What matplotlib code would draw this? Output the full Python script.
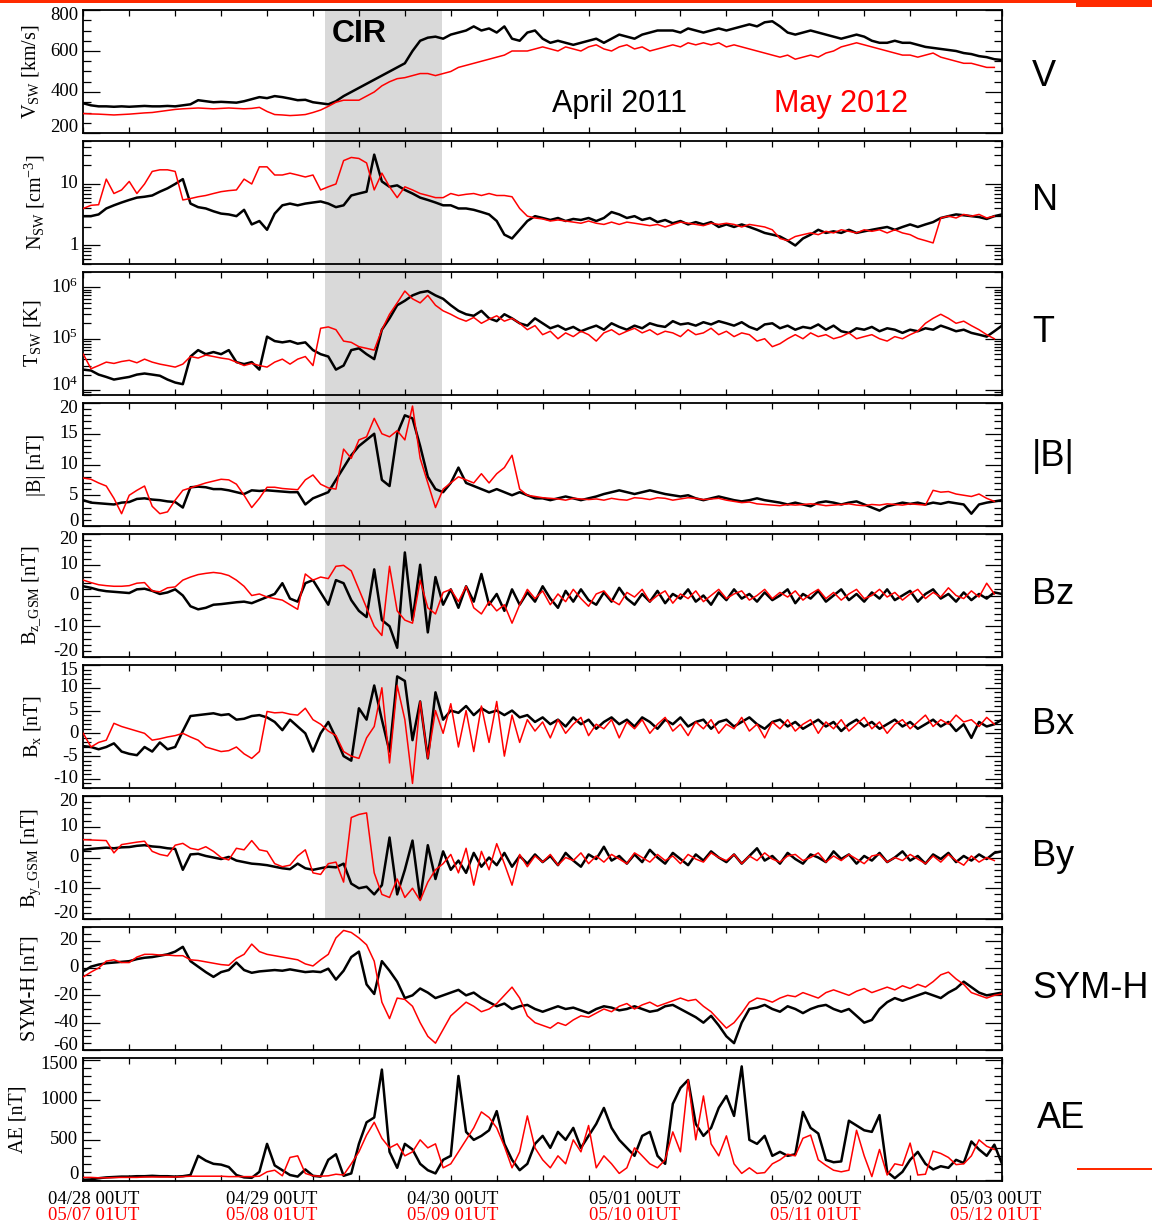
import numpy as np
import matplotlib
matplotlib.use("Agg")
import matplotlib.pyplot as plt
import matplotlib.transforms as mtransforms
from matplotlib.patches import Rectangle
from matplotlib.ticker import MultipleLocator, FixedLocator, LogLocator, NullFormatter

plt.rcParams['font.family'] = ['Liberation Serif', 'DejaVu Serif']
plt.rcParams['mathtext.fontset'] = 'custom'
plt.rcParams['mathtext.rm'] = 'Liberation Serif'
plt.rcParams['mathtext.default'] = 'regular'
plt.rcParams['axes.unicode_minus'] = False

# ---------------- data (hourly, hours since 04/28 00UT [black] / 05/07 01UT [red]) -------------
HOURS = np.arange(121)

V_2011 = [345, 335, 330, 330, 328, 330, 328, 330, 332, 330,
          330, 332, 330, 335, 340, 360, 355, 350, 352, 350,
          348, 355, 365, 375, 370, 380, 375, 368, 360, 362,
          350, 345, 340, 355, 380, 400, 420, 440, 460, 480,
          500, 520, 540, 600, 650, 665, 670, 660, 680, 690,
          700, 720, 700, 710, 690, 720, 660, 650, 690, 700,
          660, 640, 650, 640, 630, 640, 650, 660, 640, 660,
          680, 670, 660, 680, 690, 700, 700, 700, 690, 710,
          700, 690, 700, 710, 700, 710, 720, 730, 720, 740,
          745, 720, 690, 680, 690, 700, 690, 680, 670, 660,
          670, 680, 670, 650, 640, 640, 650, 640, 640, 630,
          620, 615, 610, 605, 600, 590, 585, 575, 570, 560,
          556]
V_2012 = [295, 293, 292, 290, 288, 290, 292, 295, 298, 300,
          305, 310, 315, 318, 320, 322, 320, 318, 320, 322,
          320, 318, 320, 325, 305, 290, 288, 285, 287, 290,
          300, 312, 330, 350, 360, 360, 360, 380, 400, 430,
          450, 465, 470, 480, 490, 490, 480, 490, 500, 520,
          530, 540, 550, 560, 570, 580, 600, 600, 600, 610,
          620, 610, 600, 620, 610, 600, 620, 630, 610, 600,
          620, 630, 610, 620, 600, 610, 620, 630, 620, 640,
          630, 640, 630, 640, 620, 630, 620, 610, 600, 590,
          580, 570, 580, 560, 570, 580, 570, 590, 600, 620,
          630, 640, 630, 620, 610, 600, 590, 580, 580, 570,
          580, 590, 570, 560, 550, 540, 540, 530, 520, 520,
          np.nan]

N_2011 = [3.0, 3.0, 3.2, 4.0, 4.5, 5.0, 5.5, 6.0, 6.2, 6.5,
          7.5, 8.5, 10, 12, 4.8, 4.2, 4.0, 3.6, 3.3, 3.2,
          3.0, 3.8, 2.2, 2.5, 1.8, 3.3, 4.5, 4.8, 4.5, 4.8,
          5.0, 5.2, 4.8, 4.2, 4.5, 6.5, 7.0, 7.5, 30, 11,
          9.0, 9.5, 8.0, 7.0, 6.0, 5.5, 5.0, 4.5, 4.5, 4.0,
          4.0, 3.8, 3.5, 3.2, 2.5, 1.5, 1.3, 1.8, 2.5, 3.0,
          2.8, 2.6, 2.8, 2.5, 2.7, 2.6, 2.8, 2.5, 2.8, 3.5,
          3.2, 2.8, 3.0, 2.6, 2.8, 2.4, 2.6, 2.3, 2.5, 2.2,
          2.4, 2.2, 2.4, 2.0, 2.2, 2.0, 2.2, 2.0, 1.8, 1.6,
          1.5, 1.4, 1.2, 1.0, 1.3, 1.5, 1.8, 1.6, 1.7, 1.6,
          1.8, 1.6, 1.7, 1.8, 1.9, 2.0, 1.8, 2.0, 2.2, 2.0,
          2.2, 2.4, 2.8, 3.0, 3.2, 3.1, 3.0, 2.9, 2.7, 3.0,
          3.2]
N_2012 = [4.0, 4.5, 4.6, 12, 7.0, 8.0, 11, 7.0, 10, 16,
          17, 17, 16, 5.5, 5.8, 6.2, 6.5, 7.0, 7.5, 7.8,
          8.0, 12, 10, 19, 19, 14, 14, 15, 14, 13,
          14, 8.0, 9.0, 10, 24, 27, 26, 22, 8.0, 15,
          9.0, 6.0, 9.0, 8.0, 7.0, 6.5, 6.0, 6.0, 7.0, 6.5,
          6.8, 7.0, 6.5, 7.0, 6.5, 6.5, 6.2, 4.0, 3.0, 2.8,
          2.7, 2.5, 2.6, 2.5, 2.4, 2.3, 2.5, 2.3, 2.2, 2.4,
          2.2, 2.4, 2.3, 2.2, 2.1, 2.2, 2.0, 2.2, 2.4, 2.3,
          2.2, 2.1, 2.3, 2.2, 2.3, 2.2, 2.0, 2.2, 2.1, 2.0,
          1.8, 1.3, 1.2, 1.4, 1.5, 1.6, 1.5, 1.7, 1.6, 1.8,
          1.7, 1.6, 1.8, 1.7, 1.8, 1.6, 1.8, 1.6, 1.5, 1.3,
          1.2, 1.1, 2.8, 3.0, 2.8, 3.2, 3.0, 3.2, 2.8, 3.0,
          np.nan]

T_2011 = [2.5e4, 2.4e4, 2.0e4, 1.8e4, 1.6e4, 1.7e4, 1.8e4, 2.0e4, 2.1e4, 2.0e4,
          1.9e4, 1.6e4, 1.4e4, 1.3e4, 4.5e4, 6.0e4, 5.0e4, 5.5e4, 5.0e4, 6.0e4,
          3.5e4, 3.2e4, 3.5e4, 2.5e4, 1.1e5, 9.0e4, 8.5e4, 9.0e4, 8.0e4, 8.5e4,
          6.0e4, 5.0e4, 4.5e4, 2.5e4, 3.0e4, 6.0e4, 6.5e4, 5.0e4, 4.0e4, 1.5e5,
          2.5e5, 4.5e5, 5.5e5, 7.0e5, 8.0e5, 8.5e5, 7.0e5, 6.0e5, 4.5e5, 3.5e5,
          3.0e5, 2.8e5, 3.5e5, 2.5e5, 2.2e5, 3.0e5, 2.5e5, 2.0e5, 1.8e5, 2.5e5,
          2.0e5, 1.6e5, 1.8e5, 1.5e5, 1.7e5, 1.4e5, 1.6e5, 1.8e5, 1.5e5, 2.0e5,
          1.7e5, 1.5e5, 1.8e5, 1.6e5, 2.0e5, 1.8e5, 1.7e5, 2.2e5, 1.9e5, 2.0e5,
          1.8e5, 2.1e5, 1.9e5, 2.2e5, 2.0e5, 1.8e5, 2.1e5, 1.7e5, 1.5e5, 1.9e5,
          2.0e5, 1.6e5, 1.8e5, 1.5e5, 1.7e5, 1.6e5, 1.9e5, 1.5e5, 1.8e5, 1.4e5,
          1.3e5, 1.6e5, 1.5e5, 1.7e5, 1.4e5, 1.6e5, 1.5e5, 1.3e5, 1.5e5, 1.4e5,
          1.6e5, 1.5e5, 1.8e5, 1.6e5, 1.4e5, 1.5e5, 1.3e5, 1.2e5, 1.1e5, 1.4e5,
          1.8e5]
T_2012 = [5.0e4, 2.6e4, 3.0e4, 3.5e4, 3.3e4, 3.6e4, 3.8e4, 3.4e4, 4.0e4, 3.5e4,
          3.2e4, 3.0e4, 2.8e4, 3.2e4, 4.5e4, 4.2e4, 4.8e4, 4.5e4, 4.2e4, 4.0e4,
          3.5e4, 3.0e4, 3.3e4, 3.0e4, 2.8e4, 3.5e4, 4.0e4, 3.2e4, 4.0e4, 4.5e4,
          3.0e4, 1.6e5, 1.7e5, 1.5e5, 9.0e4, 8.5e4, 7.0e4, 6.5e4, 6.0e4, 1.5e5,
          3.0e5, 5.0e5, 8.5e5, 6.0e5, 5.0e5, 7.0e5, 4.5e5, 3.5e5, 3.0e5, 2.5e5,
          2.2e5, 2.6e5, 2.0e5, 2.4e5, 2.8e5, 2.2e5, 2.5e5, 2.0e5, 1.5e5, 1.8e5,
          1.2e5, 1.4e5, 1.0e5, 1.3e5, 1.1e5, 1.4e5, 1.2e5, 9.0e4, 1.3e5, 1.5e5,
          1.2e5, 1.4e5, 1.6e5, 1.3e5, 1.5e5, 1.2e5, 1.4e5, 1.3e5, 1.1e5, 1.5e5,
          1.2e5, 1.3e5, 1.6e5, 1.2e5, 1.4e5, 1.1e5, 1.3e5, 1.2e5, 9.0e4, 1.0e5,
          7.0e4, 8.0e4, 1.0e5, 1.2e5, 1.0e5, 1.3e5, 1.1e5, 1.2e5, 1.0e5, 1.1e5,
          1.3e5, 1.0e5, 1.1e5, 1.2e5, 1.0e5, 9.0e4, 1.1e5, 1.0e5, 1.2e5, 1.4e5,
          2.0e5, 2.5e5, 3.0e5, 2.5e5, 2.0e5, 2.2e5, 1.8e5, 1.5e5, 1.2e5, 1.0e5,
          np.nan]

B_2011 = [4.2, 3.8, 3.7, 3.6, 3.5, 3.8, 3.9, 4.4, 4.5, 4.3,
          4.2, 4.0, 3.9, 3.0, 6.3, 6.4, 6.3, 6.0, 6.0, 5.8,
          5.5, 5.2, 5.8, 5.7, 5.8, 5.7, 5.6, 5.5, 5.5, 3.5,
          4.5, 5.0, 5.5, 7.5, 9.5, 11.5, 13, 14, 15, 7.5,
          6.5, 15, 18, 17.5, 13, 8.0, 6.0, 5.5, 7.0, 9.5,
          7.0, 6.5, 6.0, 5.5, 6.0, 5.5, 5.0, 5.5, 5.0, 4.5,
          4.5, 4.2, 4.5, 4.8, 4.5, 4.2, 4.5, 4.8, 5.2, 5.5,
          5.8, 5.5, 5.2, 5.5, 5.8, 5.5, 5.2, 5.0, 4.8, 5.0,
          4.5, 4.2, 4.5, 4.8, 4.5, 4.2, 4.0, 4.2, 4.5, 4.2,
          4.0, 3.8, 3.5, 3.8, 3.5, 3.2, 3.8, 4.0, 3.8, 3.5,
          3.8, 4.0, 3.5, 3.0, 2.5, 3.2, 3.5, 3.8, 3.6, 3.8,
          3.5, 3.8, 3.6, 3.9, 3.7, 3.5, 2.0, 3.5, 3.8, 4.0,
          4.2]
B_2012 = [7.8, 7.6, 7.0, 6.5, 4.5, 2.0, 5.0, 5.8, 6.5, 3.2,
          2.0, 2.3, 4.2, 5.8, 6.2, 6.6, 7.0, 7.3, 7.6, 7.5,
          6.8, 5.0, 3.0, 4.5, 6.3, 6.3, 6.1, 6.0, 5.9, 7.5,
          8.3, 6.8, 6.2, 6.0, 12.5, 11, 14, 14.5, 17.5, 15,
          14.5, 15.5, 14, 19.5, 11, 7.0, 3.0, 6.0, 7.0, 8.0,
          7.5, 7.0, 8.5, 7.0, 8.5, 9.5, 11.5, 6.0, 5.0, 4.8,
          4.6, 4.5, 4.4, 4.2, 4.5, 4.4, 4.3, 4.4, 4.2, 4.5,
          4.3, 4.2, 4.6, 4.5, 4.3, 4.6, 4.5, 4.2, 4.4, 4.6,
          4.5, 4.3, 4.4, 4.5, 4.2, 4.0, 3.8, 3.9, 3.6, 3.5,
          3.4, 3.3, 3.5, 3.4, 3.5, 3.6, 3.5, 3.3, 3.4, 3.5,
          3.6, 3.4, 3.3, 3.5, 3.4, 3.6, 3.5, 3.4, 3.6, 3.5,
          3.4, 5.8, 5.5, 5.6, 5.2, 5.0, 4.8, 5.2, 4.5, 4.0,
          np.nan]

BZ_2011 = [3.0, 2.5, 1.8, 1.4, 1.2, 1.0, 0.8, 2.0, 2.2, 1.5,
           0.5, 1.0, 2.0, 0.0, -3.5, -4.5, -4.0, -3.0, -2.8, -2.5,
           -2.2, -2.0, -2.5, -1.5, -0.5, 0.5, 4.0, -1.0, -2.0, 4.0,
           5.0, 1.0, -3.0, 5.0, 4.0, -1.5, -5.0, -7.0, 8.5, -8.0,
           -10, -17, 14, -8.0, 10, -12, 6.0, -3.0, 2.0, -4.0,
           3.0, -2.0, 7.0, -3.0, 0.5, -5.0, 2.0, -3.0, 1.0, -2.0,
           3.0, -1.0, -4.0, 1.5, -2.0, 2.0, -1.5, -3.0, 1.0, -2.0,
           2.5, -1.0, -3.0, 0.5, -2.0, 1.5, -2.5, 0.5, -1.0, 2.0,
           -2.0, 0.0, -3.0, 1.0, -1.5, 2.0, -1.0, 0.5, -2.0, 1.0,
           -1.5, 0.0, 2.0, -2.5, 0.5, -1.0, 1.5, -2.0, 0.0, 2.0,
           -1.5, 0.5, -2.0, 1.0, -1.0, 2.0, -1.5, 0.0, 1.5, -2.0,
           0.5, 2.0, -1.0, 0.5, -2.0, 1.0, -1.5, 0.5, -1.0, 1.0,
           0.5]
BZ_2012 = [5.0, 4.2, 3.5, 3.2, 3.0, 3.0, 3.2, 4.0, 4.2, 1.5,
           1.2, 2.5, 2.8, 5.0, 6.0, 6.8, 7.2, 7.5, 7.2, 6.5,
           5.0, 3.0, 0.0, 0.5, -0.5, -1.0, -1.5, -3.0, -4.5, 7.0,
           5.0, 6.0, 5.5, 9.5, 9.8, 8.0, 2.0, -4.0, -10, -13,
           9.5, -5.0, -8.0, -9.0, 5.0, -4.0, -6.0, 1.0, 2.0, -2.0,
           3.0, -4.0, -6.0, -2.0, -5.0, -3.0, -9.0, -3.0, 2.0, -1.0,
           1.5, -3.0, 0.5, -2.0, 2.0, -1.0, -3.5, 0.5, 1.5, -1.5,
           -3.0, 1.0, -0.5, 2.0, -2.0, 0.0, 1.5, -2.5, 0.5, -1.0,
           1.5, -2.0, 0.0, 2.0, -1.0, 0.5, 1.5, -1.5, 0.0, 2.0,
           -1.0, 1.0, -0.5, 1.5, -1.5, 0.5, 2.0, -1.0, 1.0, -1.5,
           0.5, 2.0, -1.0, 0.0, 2.0, -0.5, 1.0, -1.5, 0.5, 2.0,
           -1.0, 1.0, -0.5, 2.5, 0.0, -1.0, 1.5, -0.5, 4.0, 0.5,
           np.nan]

BX_2011 = [-2.8, -3.0, -3.5, -3.0, -2.2, -4.0, -4.5, -4.8, -3.0, -4.0,
           -2.0, -3.5, -3.0, 0.5, 3.8, 4.0, 4.2, 4.4, 4.0, 4.2,
           3.0, 3.2, 3.8, 4.0, 3.5, 2.5, 0.7, 3.0, 1.5, 0.0,
           -4.0, 0.0, 2.5, -1.0, -5.0, -6.0, 5.5, 3.0, 10.5, 3.0,
           -4.0, 12.5, 11.5, -1.5, 7.0, -5.5, 9.0, 3.0, 5.0, 4.5,
           6.0, 4.0, 5.5, 4.5, 5.0, 4.0, 5.0, 3.5, 4.0, 2.5,
           3.5, 2.0, 3.0, 1.5, 3.5, 2.0, 3.0, 1.0, 2.5, 3.5,
           2.0, 3.0, 1.5, 3.5, 2.5, 1.0, 3.0, 2.0, 3.5, 1.5,
           2.5, 3.0, 1.0, 2.5, 3.0, 1.5, 2.5, 3.5, 2.0, 1.0,
           2.5, 3.0, 1.5, 2.5, 1.0, 2.0, 3.0, 1.5, 2.5, 0.5,
           2.0, 3.0, 1.5, 2.5, 1.0, 2.0, 3.0, 1.5, 2.5, 1.0,
           2.0, 3.0, 1.5, 2.5, 0.5, 2.0, -1.0, 2.5, 1.5, 2.0,
           3.0]
BX_2012 = [0.0, -3.0, -2.0, -1.5, 2.2, 1.5, 1.0, 0.5, 0.0, -1.5,
           -1.2, -0.8, -0.5, 0.0, -0.8, -1.5, -3.0, -3.5, -4.0, -3.8,
           -3.0, -4.5, -5.5, -4.0, 4.8, 4.5, 4.6, 4.2, 4.0, 5.5,
           3.0, 2.0, 0.5, -0.5, -4.0, -5.0, -5.5, -1.0, 1.5, 10.0,
           -6.5, 10.5, 3.0, -11, 7.0, -5.5, 5.0, 0.0, 6.5, -3.0,
           5.0, -4.0, 6.0, -2.0, 7.0, -5.0, 4.0, -2.0, 3.0, 0.5,
           2.5, -1.0, 3.0, 0.0, 2.0, 3.5, -0.5, 2.0, 1.0, 3.0,
           -1.0, 2.5, 1.0, 3.0, 0.0, 2.0, 3.5, 0.5, 2.0, -0.5,
           2.5, 1.0, 3.0, 0.0, 2.0, 1.0, 3.5, 0.5, 2.0, -1.0,
           2.5, 1.0, 3.0, 0.5, 2.0, 3.0, 0.0, 2.5, 1.0, 3.0,
           0.5, 2.0, 3.5, 1.0, 2.5, 0.0, 2.0, 3.0, 1.0, 2.5,
           4.0, 1.5, 3.0, 2.0, 4.0, 2.5, 3.0, 1.5, 3.5, 2.0,
           np.nan]

BY_2011 = [2.5, 2.8, 3.0, 3.2, 3.0, 3.3, 3.4, 3.8, 4.0, 3.6,
           3.4, 3.0, 2.8, -4.0, 1.0, 1.2, 0.5, 0.0, -0.5, 0.2,
           -1.0, -1.5, -2.0, -2.2, -2.5, -3.0, -3.5, -3.8, -2.0, -3.5,
           -4.0, -3.5, -3.0, -3.2, -2.0, -8.5, -10, -9.5, -12, -9.0,
           6.5, -12, -4.0, 5.5, -13.5, 4.0, -7.0, 2.0, -4.0, -1.0,
           -5.0, 1.5, -3.0, 0.0, -2.5, 1.5, -3.0, 0.5, -2.0, 1.0,
           -1.5, 0.5, -2.5, 1.5, -1.0, -3.0, 1.0, -0.5, 3.5, -1.0,
           0.5, -2.0, 1.0, -1.5, 2.5, 0.0, -2.0, 1.5, -0.5, -2.5,
           1.0, -1.0, 2.0, 0.0, -1.5, 1.0, -2.0, 0.5, 3.0, -1.0,
           0.5, -2.0, 1.5, -0.5, -2.0, 1.0, 0.0, -1.5, 2.0, -0.5,
           1.0, -2.0, 0.5, -1.0, 1.5, -1.5, 0.0, 2.0, -1.0, 0.5,
           -2.0, 1.0, -0.5, 1.5, -1.5, 0.5, -1.0, 1.0, -0.5, 1.5,
           2.0]
BY_2012 = [5.8, 5.7, 5.6, 5.5, 1.5, 4.2, 4.6, 5.0, 5.3, 2.0,
           1.0, 0.5, 4.0, 4.6, 3.0, 2.5, 3.5, 2.0, 0.0, -0.8,
           3.0, 2.5, 5.5, 2.5, 2.0, -2.0, -3.0, -2.5, 0.5, 2.5,
           -5.0, -5.5, -2.0, -1.5, -8.0, 13, 14, 14.5, -5.0, -12,
           -13, -7.0, -13, -10, -14, -8.0, -4.0, -2.0, 1.0, -5.0,
           3.0, -9.0, 2.0, -4.0, 4.5, -2.0, -9.0, 1.0, -3.0, 0.5,
           -1.5, 1.0, -2.5, 0.0, -1.0, 1.5, -2.0, 0.5, -1.5, 1.0,
           -0.5, -2.0, 1.5, 0.0, -1.5, 1.0, -1.0, 0.5, -2.0, 1.0,
           -0.5, -1.5, 1.5, 0.0, -1.0, 1.0, -2.0, 0.5, -1.0, 1.5,
           -0.5, -1.5, 0.5, 1.0, -1.0, 0.0, 1.5, -1.5, 0.5, -1.0,
           1.0, -0.5, -2.0, 0.5, 1.0, -1.5, 0.0, -1.0, 1.0, -0.5,
           -2.0, 0.5, -1.5, 1.0, -1.0, -2.5, 0.5, -1.5, 0.0, -1.0,
           np.nan]

SYMH_2011 = [-2.5, 1.0, 2.5, 3.5, 4.0, 4.5, 5.0, 6.5, 7.5, 8.0,
             9.0, 10.0, 12.0, 15.5, 5.0, 1.0, -3.0, -6.5, -3.0, -1.5,
             4.0, -1.5, -3.5, -2.5, -2.0, -1.5, -2.0, -1.0, -2.0, -3.0,
             -2.5, -3.0, -0.5, -8.5, -2.0, 8.0, 12.0, -12.0, -19.0, 5.0,
             -2.0, -10.0, -22.0, -20.0, -15.0, -18.0, -22.0, -20.0, -18.0, -16.0,
             -20.0, -18.0, -22.0, -25.0, -28.0, -26.0, -30.0, -28.0, -27.0, -30.0,
             -32.0, -30.0, -28.0, -30.0, -29.0, -31.0, -33.0, -30.0, -28.0, -29.0,
             -31.0, -30.0, -28.0, -30.0, -32.0, -31.0, -28.0, -27.0, -30.0, -33.0,
             -36.0, -40.0, -35.0, -42.0, -50.0, -55.0, -40.0, -30.0, -29.0, -27.0,
             -30.0, -32.0, -28.0, -30.0, -33.0, -30.0, -28.0, -27.0, -30.0, -32.0,
             -30.0, -35.0, -40.0, -38.0, -30.0, -25.0, -22.0, -24.0, -22.0, -20.0,
             -18.0, -20.0, -22.0, -18.0, -15.0, -10.0, -14.0, -18.0, -20.0, -19.0,
             -18.0]
SYMH_2012 = [-6.5, -3.0, 0.0, 5.0, 6.0, 4.0, 4.0, 8.0, 10.0, 10.0,
             9.5, 9.5, 9.0, 9.0, 6.0, 5.5, 4.5, 3.5, 2.5, 2.0,
             7.0, 10.0, 17.5, 12.0, 10.0, 9.0, 8.0, 7.0, 6.0, 3.0,
             1.5, 6.0, 10.0, 22.0, 27.5, 26.0, 22.0, 17.0, 5.0, -25.0,
             -37.0, -22.0, -23.0, -28.0, -40.0, -50.0, -55.0, -45.0, -35.0, -30.0,
             -25.0, -28.0, -32.0, -30.0, -26.0, -20.0, -14.0, -22.0, -35.0, -40.0,
             -42.0, -44.0, -40.0, -42.0, -38.0, -35.0, -36.0, -33.0, -30.0, -32.0,
             -28.0, -26.0, -30.0, -27.0, -25.0, -28.0, -26.0, -24.0, -22.0, -24.0,
             -23.0, -28.0, -32.0, -38.0, -44.0, -40.0, -33.0, -25.0, -22.0, -23.0,
             -25.0, -22.0, -20.0, -21.0, -18.0, -20.0, -22.0, -18.0, -16.0, -18.0,
             -20.0, -17.0, -15.0, -18.0, -16.0, -14.0, -16.0, -13.0, -15.0, -12.0,
             -14.0, -10.0, -5.0, -3.0, -8.0, -12.0, -18.0, -20.0, -22.0, -20.0,
             -19.0]

AE_2011 = [0, 5, 20, 30, 35, 40, 40, 45, 45, 50,
           45, 45, 40, 45, 60, 300, 240, 200, 190, 160,
           60, 30, 25, 100, 450, 180, 120, 60, 40, 130,
           50, 40, 250, 320, 50, 80, 450, 720, 780, 1380,
           350, 150, 450, 380, 200, 120, 80, 250, 300, 1300,
           600, 500, 550, 620, 860, 450, 250, 120, 200, 450,
           550, 400, 600, 500, 650, 400, 550, 700, 900, 650,
           500, 400, 300, 550, 600, 300, 200, 950, 1150, 1250,
           700, 550, 650, 900, 1050, 800, 1420, 500, 450, 550,
           300, 350, 300, 320, 850, 650, 580, 250, 220, 230,
           740, 680, 620, 600, 810, 100, 20, 100, 250, 350,
           200, 130, 170, 150, 250, 210, 480, 380, 300, 440,
           200]
AE_2012 = [30, 30, 25, 25, 28, 30, 30, 30, 35, 35,
           35, 35, 35, 40, 45, 45, 45, 45, 45, 40,
           40, 40, 40, 45, 100, 120, 50, 280, 300, 80,
           50, 45, 50, 70, 60, 200, 350, 560, 720, 520,
           400, 450, 300, 350, 500, 400, 450, 150, 200, 350,
           500, 650, 850, 780, 650, 420, 150, 350, 800, 400,
           250, 150, 300, 200, 500, 350, 680, 150, 300, 200,
           80, 150, 400, 300, 200, 150, 250, 600, 350, 1250,
           500, 1050, 450, 300, 550, 200, 80, 150, 80, 90,
           200, 250, 320, 300, 520, 560, 250, 180, 120, 100,
           120, 620, 300, 40, 380, 60, 200, 180, 460, 60,
           70, 360, 330, 280, 190, 200, 300, 500, 420, 380,
           np.nan]

CIR_START, CIR_END = 31.6, 46.85
XTICK_2011 = ['04/28 00UT', '04/29 00UT', '04/30 00UT', '05/01 00UT', '05/02 00UT', '05/03 00UT']
XTICK_2012 = ['05/07 01UT', '05/08 01UT', '05/09 01UT', '05/10 01UT', '05/11 01UT', '05/12 01UT']

# ---------------- layout ----------------
W, H = 1152.0, 1224.0
X0, X1 = 83.3, 1002.0
TOPS = [10, 141, 272, 403, 534, 665, 796, 927, 1058]
PH = 123.0

panels = [
    dict(b=V_2011, r=V_2012, ylim=(200, 800), log=False, major=[200, 400, 600, 800], minor=50,
         ylabel='V$_{SW}$ [km/s]', name='V', lx=41, ny=76),
    dict(b=N_2011, r=N_2012, ylim=(0.5, 50), log=True, major=[1, 10], labels=['1', '10'],
         ylabel='N$_{SW}$ [cm$^{-3}$]', name='N', lx=47, ny=201),
    dict(b=T_2011, r=T_2012, ylim=(8e3, 2e6), log=True, major=[1e4, 1e5, 1e6],
         labels=['10$^{4}$', '10$^{5}$', '10$^{6}$'],
         ylabel='T$_{SW}$ [K]', name='T', lx=43, ny=333),
    dict(b=B_2011, r=B_2012, ylim=(0, 20), log=False, major=[0, 5, 10, 15, 20], minor=1,
         ylabel='|B| [nT]', name='|B|', lx=46, ny=457),
    dict(b=BZ_2011, r=BZ_2012, ylim=(-20, 20), log=False, major=[-20, -10, 0, 10, 20], minor=2,
         ylabel='B$_{z\\_GSM}$ [nT]', name='Bz', lx=43, ny=594),
    dict(b=BX_2011, r=BX_2012, ylim=(-12, 15), log=False, major=[-10, -5, 0, 5, 10, 15], minor=1,
         ylabel='B$_{x}$ [nT]', name='Bx', lx=43, ny=725),
    dict(b=BY_2011, r=BY_2012, ylim=(-20, 20), log=False, major=[-20, -10, 0, 10, 20], minor=2,
         ylabel='B$_{y\\_GSM}$ [nT]', name='By', lx=43, ny=857),
    dict(b=SYMH_2011, r=SYMH_2012, ylim=(-60, 30), log=False, major=[-60, -40, -20, 0, 20], minor=5,
         ylabel='SYM-H [nT]', name='SYM-H', lx=40, ny=989),
    dict(b=AE_2011, r=AE_2012, ylim=(-15, 1525), log=False, major=[0, 500, 1000, 1500], minor=100,
         ylabel='AE [nT]', name='AE', lx=28, ny=1119, nx=1037),
]

fig = plt.figure(figsize=(11.52, 12.24), dpi=100, facecolor='white')
axes = []
for top, p in zip(TOPS, panels):
    ax = fig.add_axes([X0 / W, 1 - (top + PH) / H, (X1 - X0) / W, PH / H], facecolor='none')
    axes.append(ax)
    ax.plot(HOURS, p['b'], color='black', lw=1.8, zorder=3)
    ax.plot(HOURS, p['r'], color='#ff0000', lw=1.1, zorder=4)
    ax.set_xlim(0, 120)
    lo, hi = p['ylim']
    if p['log']:
        ax.set_yscale('log')
        ax.yaxis.set_minor_locator(LogLocator(base=10, subs=np.arange(2, 10)))
        ax.yaxis.set_minor_formatter(NullFormatter())
        labels = p['labels']
    else:
        ax.yaxis.set_minor_locator(MultipleLocator(p['minor']))
        labels = [str(v) for v in p['major']]
    ax.set_ylim(lo, hi)
    ax.yaxis.set_major_locator(FixedLocator(p['major']))
    ax.set_yticklabels([])
    # IDL-style tick labels: edge labels are nudged inside the frame
    ytr = mtransforms.blended_transform_factory(ax.transAxes, ax.transData)
    for v, lab in zip(p['major'], labels):
        if p['log']:
            frac = (np.log10(v) - np.log10(lo)) / (np.log10(hi) - np.log10(lo))
        else:
            frac = (v - lo) / (hi - lo)
        dy = 0
        if frac * PH > PH - 8:
            dy = -5
        elif frac * PH < 8:
            dy = 5
        tr = mtransforms.offset_copy(ytr, fig=fig, x=-5, y=dy, units='dots')
        ax.text(0, v, lab, transform=tr, ha='right', va='center', fontsize=13.5, clip_on=False)
    ax.xaxis.set_major_locator(MultipleLocator(24))
    ax.xaxis.set_minor_locator(MultipleLocator(6))
    ax.tick_params(axis='both', which='both', direction='in', top=True, right=True,
                   labelbottom=False, width=0.9, color='black')
    ax.tick_params(axis='y', which='major', length=12.5)
    ax.tick_params(axis='y', which='minor', length=6)
    ax.tick_params(axis='x', which='both', length=4.5)
    for s in ax.spines.values():
        s.set_linewidth(1.3)
    ax.set_ylabel(p['ylabel'], fontsize=14.5)
    ax.yaxis.set_label_coords((p['lx'] - X0) / (X1 - X0), 0.5)
    fig.text(p.get('nx', 1032) / W, 1 - p['ny'] / H, p['name'], fontsize=26,
             family='Liberation Sans', ha='left', va='center')

# CIR shading across the first seven panels (including the gaps)
btrans = mtransforms.blended_transform_factory(axes[0].transData, fig.transFigure)
fig.add_artist(Rectangle((CIR_START, 1 - 919 / H), CIR_END - CIR_START, (919 - 10) / H,
                         transform=btrans, facecolor='#d9d9d9', edgecolor='none', zorder=-1))

axes[0].text(36.1, 683, 'CIR', fontsize=23, fontweight='bold', family='Liberation Sans',
             ha='center', va='center', zorder=5)
axes[0].text(70.0, 341, 'April 2011', fontsize=22, family='Liberation Sans',
             ha='center', va='center', color='black', zorder=5)
axes[0].text(99.0, 341, 'May 2012', fontsize=22, family='Liberation Sans',
             ha='center', va='center', color='#ff0000', zorder=5)

# bottom two-line date labels
ax_b = axes[-1]
lt = mtransforms.blended_transform_factory(ax_b.transData, ax_b.transAxes)
shifts = [10, 5, 2, 0, -3, -6]
for i, (lb, lr) in enumerate(zip(XTICK_2011, XTICK_2012)):
    off = mtransforms.offset_copy(lt, fig=fig, x=shifts[i], y=0, units='dots')
    ax_b.text(24 * i, -18 / PH, lb, transform=off, ha='center', va='center',
              fontsize=13.5, color='black', clip_on=False)
    ax_b.text(24 * i, -35 / PH, lr, transform=off, ha='center', va='center',
              fontsize=13.5, color='#ff0000', clip_on=False)

# decorative slide bars
fig.add_artist(Rectangle((0, 1 - 3 / H), 1076 / W, 3 / H, transform=fig.transFigure,
                         facecolor='#ff2a00', edgecolor='none'))
fig.add_artist(Rectangle((1076 / W, 1 - 7 / H), 76 / W, 7 / H, transform=fig.transFigure,
                         facecolor='#ff2a00', edgecolor='none'))
fig.add_artist(Rectangle((1077 / W, 1 - 1170 / H), 75 / W, 2 / H, transform=fig.transFigure,
                         facecolor='#ff2a00', edgecolor='none'))

fig.savefig('out.png', dpi=100, facecolor='white')
